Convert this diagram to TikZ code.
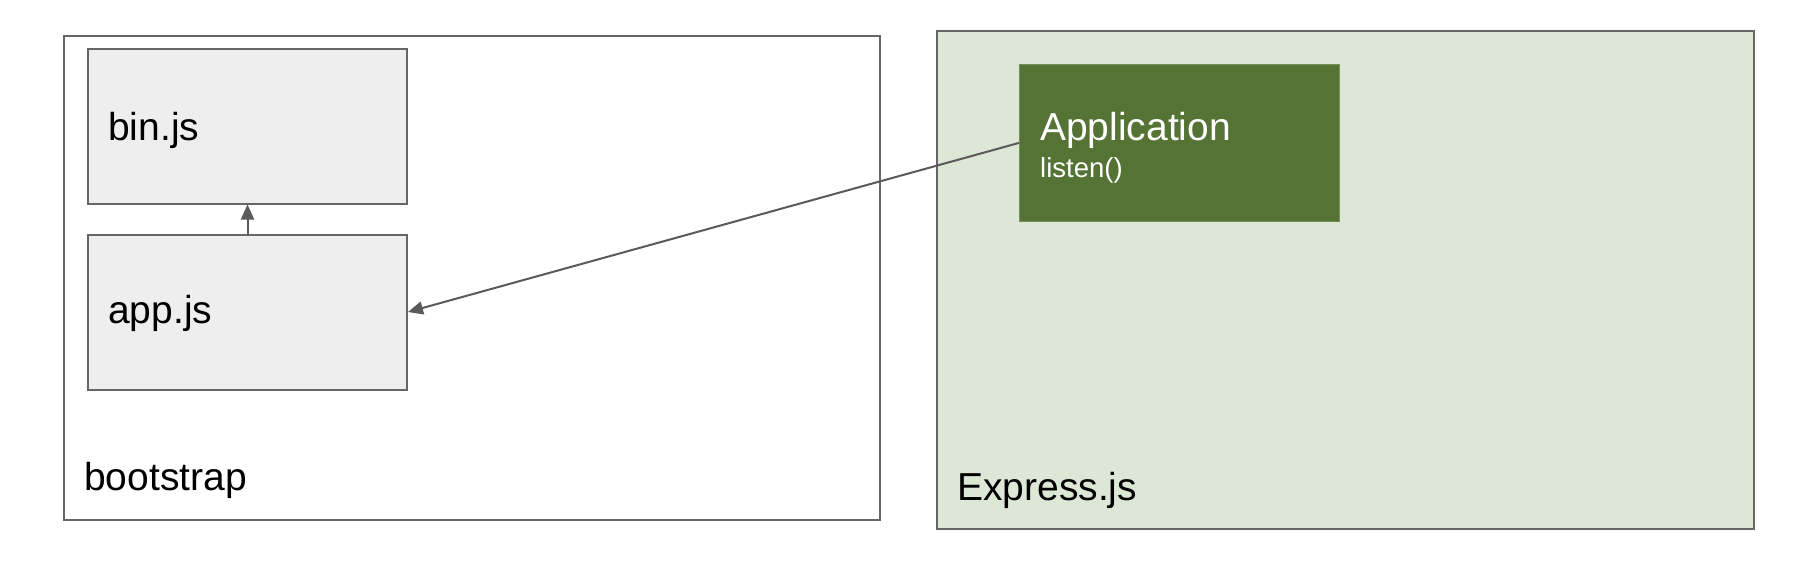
\documentclass[tikz,border=0pt]{standalone}
\usepackage{fontspec}
\setmainfont{Liberation Sans}
\usetikzlibrary{arrows.meta}
\definecolor{edgegray}{HTML}{666666}
\definecolor{boxgray}{HTML}{EEEEEE}
\definecolor{lightgreen}{HTML}{DDE7D6}
\definecolor{darkgreen}{HTML}{547335}
\definecolor{arrowgray}{HTML}{5A5A5A}
\tikzset{
  frame/.style={draw=edgegray, line width=2pt, rectangle, inner sep=0pt, anchor=north west},
  filebox/.style={frame, fill=boxgray},
  appbox/.style={rectangle, inner sep=0pt, anchor=north west, fill=darkgreen, draw=darkgreen!80!white, line width=0.8pt},
  biglbl/.style={anchor=base west, inner sep=0pt, font=\fontsize{39}{46}\selectfont},
  smalllbl/.style={anchor=base west, inner sep=0pt, font=\fontsize{27.5}{33}\selectfont},
  conn/.style={draw=arrowgray, line width=2pt, -{Triangle[length=15pt,width=13pt]}}
}
\begin{document}
\begin{tikzpicture}[x=1pt,y=-1pt]
\useasboundingbox (0,0) rectangle (1800,584);
% containers
\node[frame, fill=white, minimum width=816pt, minimum height=484pt] (bootstrap) at (63,35) {};
\node[frame, fill=lightgreen, minimum width=817pt, minimum height=498pt] (express) at (936,30) {};
% file boxes
\node[filebox, minimum width=319pt, minimum height=155pt] (bin) at (87,47.5) {};
\node[filebox, minimum width=319pt, minimum height=155pt] (app) at (87,233.5) {};
% application box
\node[appbox, minimum width=320pt, minimum height=157pt] (application) at (1019,64) {};
% labels
\node[biglbl] (binlbl) at (108,140) {bin.js};
\node[biglbl] (applbl) at (108,323) {app.js};
\node[biglbl] (bootlbl) at (84,490) {bootstrap};
\node[biglbl] (explbl) at (957,500) {Express.js};
\node[biglbl, text=white] (applicationlbl) at (1040,140.5) {Application};
\node[smalllbl, text=white] (listenlbl) at (1040,177) {listen()};
% connectors
\draw[conn] (app.north) -- (bin.south);
\draw[conn] (application.west) -- (app.east);
\end{tikzpicture}
\end{document}
